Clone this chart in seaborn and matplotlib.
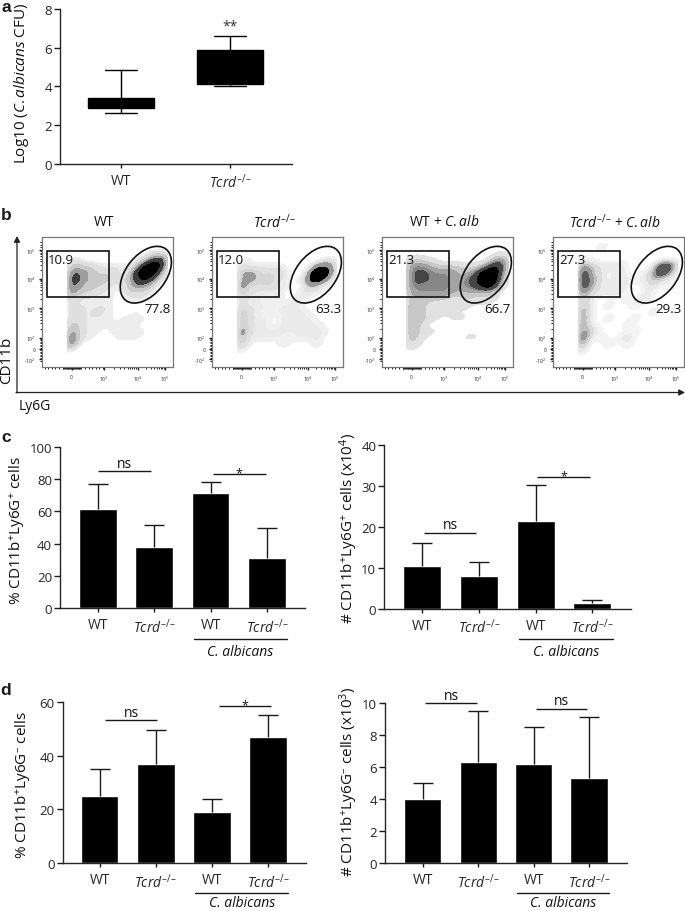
import numpy as np
import pandas as pd
import matplotlib
matplotlib.use("Agg")
import matplotlib.pyplot as plt
from matplotlib.patches import Ellipse, Rectangle, FancyArrowPatch
import seaborn as sns

sns.set_theme(style="ticks")
FONT = "Open Sans"
plt.rcParams.update({
    "font.family": [FONT, "DejaVu Sans"],
    "mathtext.fontset": "custom",
    "mathtext.rm": FONT,
    "mathtext.it": FONT + ":italic",
    "mathtext.bf": FONT + ":bold",
    "mathtext.default": "rm",
    "axes.linewidth": 1.0,
    "text.color": "#111111",
})

W, H = 685, 912
TCRD = "$\\mathit{Tcrd}^{\u2013/\u2013}$"
POS = r"CD11b$^{+}$Ly6G$^{+}$"
NEG = "CD11b$^{+}$Ly6G$^{\u2013}$"
LABEL = 11
TICK = 9.5

# ---- panel a (five-number summaries)
box_groups = ["WT", "Tcrd"]
box_wt = [2.6, 2.85, 3.1, 3.4, 4.85]
box_tcrd = [4.0, 4.1, 5.0, 5.9, 6.6]

# ---- panels c, d
bar_groups = ["WT", "Tcrd", "WT C.alb", "Tcrd C.alb"]
bar_ticklabels = ["WT", TCRD, "WT", TCRD]
c1_vals = [61.3, 38.0, 71.3, 31.3]
c1_tops = [77.0, 51.5, 78.0, 49.5]
c2_vals = [10.4, 8.0, 21.5, 1.4]
c2_tops = [16.1, 11.3, 30.1, 2.1]
d1_vals = [25.0, 37.0, 19.0, 47.0]
d1_tops = [35.1, 49.5, 23.9, 55.0]
d2_vals = [4.0, 6.35, 6.2, 5.35]
d2_tops = [5.0, 9.5, 8.5, 9.1]

# ---- panel b: dot density on a 20x20 grid (0 empty - 9 solid)
flow_wt = [
    "00000000000000000000", "00000010000000000000", "00000000000000001210",
    "00001100000000124750", "00003322111111379950", "00005543222112799720",
    "00006543332123686310", "00006433221113443100", "00005322211012221000",
    "00002111011001110000", "00002111111010000000", "00002211211000100000",
    "00002211111011110000", "00003211111111100000", "00005211101111110000",
    "00007211000111100000", "00006100000000000000", "00001000000000000000",
    "00000000000000000000", "00000000000000000000"]
flow_tcrd = [
    "00000000000000000000", "00000100000000000000", "00000000000000000000",
    "00000100000000000110", "00002111111001025520", "00003332222100189820",
    "00003332321101387310", "00004222221100231100", "00003211111001111000",
    "00002111011011100000", "00002111101111000000", "00003211011111100000",
    "00003211101111110000", "00003211101111111000", "00004211111111111100",
    "00004111111011111000", "00003100001100011000", "00001000000000000000",
    "00000000000000000000", "00000000000000000000"]
flow_wt_ca = [
    "00000000000000000000", "00000000100000000000", "00000000000000000110",
    "00003211000000001440", "00005443222212135750", "00005554444323589830",
    "00005554444344699720", "00005444444344579510", "00004444444233233100",
    "00003222221122112100", "00004221111111010000", "00004321111101000000",
    "00004321101110100000", "00004210000010000000", "00004211100001010000",
    "00004110000011100000", "00003100000000000000", "00001000000000000000",
    "00000000000000000000", "00000000000000000000"]
flow_tcrd_ca = [
    "00000000000000000000", "00000001000000000000", "00000000000000000000",
    "00001000000000000000", "00003211111000015520", "00004311011000125310",
    "00004321011101121100", "00004311111000110100", "00003211111000100000",
    "00002100000101100000", "00002100100010000000", "00003100000000010000",
    "00003100100010000000", "00003100000100000000", "00003210000010000000",
    "00004101001100000000", "00003000100100000000", "00001000000000000000",
    "00000000000000000000", "00000000000000000000"]
flow_titles = ["WT", TCRD, r"WT + $\mathit{C.alb}$", TCRD + r" + $\mathit{C.alb}$"]
gate_rect = ["10.9", "12.0", "21.3", "27.3"]
gate_oval = ["77.8", "63.3", "66.7", "29.3"]
flow_palettes = [
    ["#f1f1f1", "#cfcfcf", "#8a8a8a", "#000000", "#000000"],
    ["#f3f3f3", "#d6d6d6", "#909090", "#000000", "#000000"],
    ["#eeeeee", "#c4c4c4", "#7a7a7a", "#000000", "#000000"],
    ["#f6f6f6", "#e2e2e2", "#b4b4b4", "#6a6a6a", "#3a3a3a"],
]
flow_bw = [0.32, 0.3, 0.42, 0.3]

fig = plt.figure(figsize=(W / 100, H / 100), dpi=100)


def axpx(x0, ytop, x1, ybot):
    return fig.add_axes([x0 / W, 1 - ybot / H, (x1 - x0) / W, (ybot - ytop) / H])


def ftext(x, y, s, **kw):
    kw.setdefault("ha", "center")
    kw.setdefault("va", "center")
    kw.setdefault("fontsize", LABEL)
    fig.text(x / W, 1 - y / H, s, **kw)


def style(ax, ymax, yticks, xlim_px, c0, sp):
    ax.set_xlim((xlim_px[0] - c0) / sp, (xlim_px[1] - c0) / sp)
    ax.set_ylim(0, ymax)
    ax.set_yticks(yticks)
    sns.despine(ax=ax)
    ax.tick_params(axis="y", length=4.3, width=1.0, pad=1.5, labelsize=TICK, color="k")
    ax.tick_params(axis="x", length=3, width=1.0, pad=3.5, labelsize=10, color="k")
    ax.set_xlabel("")
    ax.set_ylabel("")


def sig(ax, x0, x1, y, label):
    ax.plot([x0, x1], [y, y], color="k", lw=1.0, clip_on=False, solid_capstyle="butt")
    off = 0.5 if label == "ns" else -4
    ax.annotate(label, ((x0 + x1) / 2, y), xytext=(0, off), textcoords="offset points",
                ha="center", va="bottom", fontsize=10 if label == "ns" else 9,
                annotation_clip=False)


def bars(box, c0, sp, vals, tops, ymax, yticks, sigs, under_y, name_drop):
    ax = axpx(*box)
    df = pd.DataFrame({"group": bar_groups, "value": vals})
    sns.barplot(data=df, x="group", y="value", color="black", saturation=1,
                width=0.67, errorbar=None, ax=ax)
    xs = np.arange(len(vals))
    up = np.array(tops) - np.array(vals)
    ax.errorbar(xs, tops, yerr=[up, np.zeros_like(up)], fmt="none", ecolor="k",
                elinewidth=1.0, capsize=0, clip_on=False)
    ax.plot(xs, tops, ls="", marker="_", ms=14.4, mew=1.0, color="k", clip_on=False)
    style(ax, ymax, yticks, (box[0], box[2]), c0, sp)
    ax.set_xticks(xs)
    ax.set_xticklabels(bar_ticklabels)
    for s in sigs:
        sig(ax, *s)
    tr = ax.get_xaxis_transform()
    h = box[3] - box[1]
    ax.plot([1.70, 3.36], [-(under_y - box[3]) / h] * 2, color="k", lw=1.0,
            transform=tr, clip_on=False)
    ax.text(2.53, -(under_y + name_drop - box[3]) / h, "C. albicans", style="italic",
            transform=tr, ha="center", va="baseline", fontsize=10)
    return ax


# ---- panel a
ax = axpx(60, 10, 292, 164.5)
df_a = pd.DataFrame({"group": [box_groups[0]] * 5 + [box_groups[1]] * 5,
                     "value": box_wt + box_tcrd})
sns.boxplot(data=df_a, x="group", y="value", color="black", linecolor="black", width=0.6,
            whis=(0, 100), saturation=1, linewidth=1.0, ax=ax)
style(ax, 8, [0, 2, 4, 6, 8], (60, 292), 121, 109)
ax.set_xticks([0, 1])
ax.set_xticklabels(["WT", TCRD])
ax.annotate("**", (1, 6.6), xytext=(0, 7), textcoords="offset points", ha="center",
            va="center", fontsize=10, color="#333333", annotation_clip=False)
ftext(22, 83, r"Log10 ($\mathit{C.albicans}$ CFU)", rotation=90)

# ---- panels c, d
bars((60, 447.7, 305, 609.3), 98, 56.3, c1_vals, c1_tops, 100, range(0, 101, 20),
     [(0.0, 0.94, 84.8, "ns"), (2.04, 2.98, 83.1, "*")], 639.7, 16.0)
bars((384.3, 445.7, 630.7, 609.7), 422.3, 56.7, c2_vals, c2_tops, 40, range(0, 41, 10),
     [(0.03, 0.95, 18.5, "ns"), (2.03, 2.96, 32.1, "*")], 639.7, 16.0)
bars((62.7, 702.7, 305.7, 864.3), 99.7, 56.1, d1_vals, d1_tops, 60, range(0, 61, 20),
     [(0.10, 1.03, 53.1, "ns"), (2.12, 3.05, 58.5, "*")], 894.3, 13.2)
bars((385.3, 704, 626.7, 864.3), 422.7, 55.45, d2_vals, d2_tops, 10, range(0, 11, 2),
     [(0.05, 0.98, 9.98, "ns"), (2.04, 2.97, 9.65, "ns")], 894.3, 13.2)

ftext(17.5, 531, "% " + POS + " cells", rotation=90)
ftext(349, 528, "# " + POS + r" cells (x10$^{4}$)", rotation=90)
ftext(22.7, 785, "% " + NEG + " cells", rotation=90)
ftext(349, 782, "# " + NEG + r" cells (x10$^{3}$)", rotation=90)

# ---- panel b
flow_sets = [flow_wt, flow_tcrd, flow_wt_ca, flow_tcrd_ca]
flow_x0 = [42, 212, 382, 553]
x_major = [4.53, 9.47, 14.6, 18.8]
y_major = [2.0, 6.4, 10.9, 15.5, 17.2, 18.8]
dec = np.log10(np.arange(2, 10))
y_minor = np.concatenate([
    y_major[1] - dec * (y_major[1] - y_major[0]),
    y_major[2] - dec * (y_major[2] - y_major[1]),
    y_major[3] - dec * (y_major[3] - y_major[2]),
    [0.7, 1.2, 1.6],
    np.arange(15.7, 19.0, 0.22)])
x_minor = np.concatenate([
    x_major[1] + dec * (x_major[2] - x_major[1]),
    x_major[2] + dec * (x_major[3] - x_major[2]),
    np.arange(3.2, 5.9, 0.14),
    np.arange(0.4, 3.2, 0.55),
    np.arange(6.0, 9.4, 0.55)])
for rows, x0, title, t1, t2, pal, bw in zip(flow_sets, flow_x0, flow_titles, gate_rect,
                                            gate_oval, flow_palettes, flow_bw):
    grid = np.array([[int(ch) for ch in r] for r in rows])
    rr, cc = np.nonzero(grid)
    cells = pd.DataFrame({"x": cc + 0.5, "y": rr + 0.5, "n": grid[rr, cc]})
    ax = axpx(x0, 238, x0 + 131, 368)
    sns.kdeplot(data=cells, x="x", y="y", weights="n", fill=True,
                cmap=sns.blend_palette(pal, as_cmap=True),
                levels=[0.05, 0.2, 0.4, 0.6, 0.75, 0.88, 1.0], bw_adjust=bw,
                gridsize=160, cut=1, ax=ax)
    ax.set_xlim(0, 20)
    ax.set_ylim(20, 0)
    ax.set_xlabel("")
    ax.set_ylabel("")
    for s in ax.spines.values():
        s.set_visible(True)
        s.set_color("#777777")
        s.set_linewidth(0.9)
    ax.set_xticks(x_major)
    ax.set_xticklabels(["0", r"10$^{3}$", r"10$^{4}$", r"10$^{5}$"], fontsize=3.6)
    ax.set_yticks(y_major)
    ax.set_yticklabels([r"10$^{5}$", r"10$^{4}$", r"10$^{3}$", r"10$^{2}$", "0", r"-10$^{2}$"],
                       fontsize=3.6, rotation=0)
    ax.set_xticks(x_minor, minor=True)
    ax.set_yticks(y_minor, minor=True)
    ax.tick_params(which="major", length=2.2, width=1.0, color="k", pad=2.5)
    ax.tick_params(which="minor", length=1.5, width=0.7, color="k")
    ax.add_patch(Rectangle((0.7, 2.2), 9.5, 7.1, fill=False, ec="#111111", lw=1.2))
    ax.add_patch(Ellipse((15.85, 5.8), 10.0, 6.1, angle=-52, fill=False, ec="#111111", lw=1.2))
    ax.text(2.9, 3.4, t1, ha="center", va="center", fontsize=TICK)
    ax.text(17.7, 11.0, t2, ha="center", va="center", fontsize=TICK)
    ftext(x0 + 62, 223, title, fontsize=10)

for a, b in [((17, 394), (17, 237)), ((16, 393.5), (685, 393.5))]:
    fig.add_artist(FancyArrowPatch(
        (a[0] / W, 1 - a[1] / H), (b[0] / W, 1 - b[1] / H), transform=fig.transFigure,
        arrowstyle="-|>,head_length=3.5,head_width=1.8", color="#222222", lw=0.9,
        shrinkA=0, shrinkB=0))
ftext(7, 360, "CD11b", rotation=90, fontsize=LABEL)
ftext(34.5, 407, "Ly6G", fontsize=10)

for s, y in zip("abcd", [8, 216, 438, 691]):
    ftext(6, y, s, fontsize=12.5, fontweight="bold", family="Liberation Sans", color="k")

fig.savefig("out.png", dpi=100)
